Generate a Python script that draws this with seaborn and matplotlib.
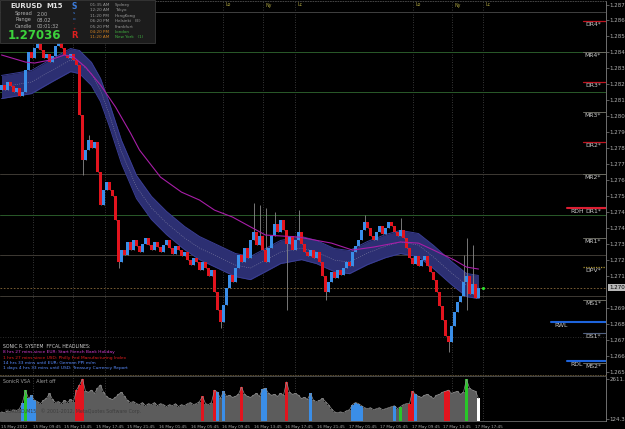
import matplotlib
matplotlib.use("Agg")
import matplotlib.pyplot as plt
from matplotlib.patches import Rectangle
from matplotlib.transforms import blended_transform_factory
import numpy as np
import pandas as pd
import seaborn as sns

# ---------- chart data (EURUSD M15) ----------
last_price = 1.27036
first_open = 1.28234
closes = [
    1.28264, 1.28234, 1.28282, 1.28258, 1.28221, 1.28246, 1.28197, 1.28221, 1.28355, 1.28464,
    1.28428, 1.28488, 1.28512, 1.28476, 1.28428, 1.28452, 1.28403, 1.28440, 1.28500, 1.28537,
    1.28488, 1.28446, 1.28428, 1.28452, 1.28415, 1.28385, 1.28082, 1.27809, 1.27870, 1.27931,
    1.27882, 1.27918, 1.27736, 1.27536, 1.27628, 1.27676, 1.27628, 1.27591, 1.27446, 1.27191,
    1.27264, 1.27234, 1.27313, 1.27264, 1.27325, 1.27288, 1.27252, 1.27300, 1.27337, 1.27294,
    1.27264, 1.27313, 1.27282, 1.27252, 1.27294, 1.27325, 1.27276, 1.27240, 1.27288, 1.27264,
    1.27228, 1.27252, 1.27203, 1.27173, 1.27216, 1.27191, 1.27143, 1.27191, 1.27155, 1.27106,
    1.27143, 1.27009, 1.26900, 1.26828, 1.26931, 1.27034, 1.27113, 1.27070, 1.27155, 1.27234,
    1.27191, 1.27276, 1.27216, 1.27325, 1.27373, 1.27294, 1.27349, 1.27264, 1.27191, 1.27276,
    1.27349, 1.27422, 1.27373, 1.27446, 1.27385, 1.27300, 1.27349, 1.27264, 1.27325, 1.27373,
    1.27300, 1.27252, 1.27228, 1.27264, 1.27216, 1.27252, 1.27191, 1.27106, 1.27009, 1.27070,
    1.27131, 1.27094, 1.27143, 1.27113, 1.27155, 1.27191, 1.27167, 1.27252, 1.27288, 1.27325,
    1.27385, 1.27434, 1.27397, 1.27349, 1.27325, 1.27373, 1.27409, 1.27361, 1.27397, 1.27434,
    1.27409, 1.27373, 1.27349, 1.27385, 1.27337, 1.27276, 1.27216, 1.27179, 1.27228, 1.27167,
    1.27203, 1.27228, 1.27167, 1.27131, 1.27082, 1.27009, 1.26925, 1.26840, 1.26743, 1.26706,
    1.26803, 1.26888, 1.26949, 1.26985, 1.27070, 1.27106, 1.26997, 1.27058, 1.26973, 1.27036,
]
wick_highs = {12: 1.28549, 29: 1.27961, 84: 1.27549, 86: 1.27537, 88: 1.27519, 91: 1.27494,
              95: 1.27367, 99: 1.27506, 121: 1.27476, 133: 1.27458, 154: 1.27234,
              155: 1.27337, 157: 1.27294}
wick_lows = {27: 1.27719, 39: 1.27155, 73: 1.26791, 95: 1.26900, 108: 1.26961,
             149: 1.26646, 155: 1.26900}

# Sonic R dragon band (mid line) and slow MA
band_bars = [0, 10, 17, 23, 26, 30, 33, 36, 40, 45, 50, 55, 61, 66, 73, 78, 83, 88, 93,
             100, 105, 111, 116, 122, 128, 133, 139, 144, 150, 155, 159]
band_mid = [1.28252, 1.28282, 1.28355, 1.28415, 1.28403, 1.28331, 1.28234, 1.28082, 1.27858,
            1.27646, 1.27519, 1.27428, 1.27337, 1.27276, 1.27216, 1.27173, 1.27155, 1.27203,
            1.27252, 1.27276, 1.27252, 1.27203, 1.27191, 1.27246, 1.27288, 1.27313, 1.27294,
            1.27222, 1.27125, 1.27052, 1.27040]
band_half = 0.00070
ma_bars = [0, 8, 11, 16, 21, 24, 28, 33, 38, 43, 46, 53, 60, 66, 71, 77, 88, 99, 110, 117,
           124, 133, 139, 144, 151, 155, 159]
ma_vals = [1.28446, 1.28403, 1.28397, 1.28415, 1.28446, 1.28434, 1.28373, 1.28264, 1.28131,
           1.27973, 1.27870, 1.27706, 1.27615, 1.27567, 1.27506, 1.27464, 1.27355, 1.27343,
           1.27306, 1.27264, 1.27282, 1.27313, 1.27306, 1.27264, 1.27203, 1.27161, 1.27149]

volumes = [
    570, 510, 640, 570, 700, 640, 764, 1150, 1916, 1400,
    1600, 1280, 1210, 1080, 1280, 1400, 1720, 1340, 1150, 1210,
    1080, 1280, 1150, 1340, 1210, 1920, 2240, 2611, 1850, 1790,
    1920, 1720, 2040, 2240, 1790, 1530, 1400, 1340, 1470, 1660,
    1790, 1530, 1280, 1150, 1210, 1080, 1020, 1150, 950, 1080,
    1020, 1150, 950, 1080, 1020, 890, 1020, 950, 1080, 890,
    1020, 950, 1080, 1150, 1020, 1080, 1210, 1530, 1080, 1020,
    1150, 1920, 1790, 1400, 1850, 1530, 1600, 1470, 1530, 1660,
    2110, 1660, 1530, 1470, 1600, 1720, 1530, 1980, 2040, 1720,
    1600, 1660, 1530, 1720, 1600, 2430, 1790, 1660, 1720, 1600,
    1400, 1470, 1340, 1720, 1280, 1210, 1280, 1400, 1210, 1020,
    764, 570, 510, 570, 510, 640, 700, 1020, 1150, 1080,
    950, 830, 764, 830, 700, 764, 830, 700, 764, 830,
    890, 950, 764, 890, 1020, 1080, 1080, 1850, 1660, 1530,
    1470, 1600, 1660, 1530, 1400, 1600, 1660, 1790, 1850, 1920,
    1720, 1790, 1850, 1660, 1790, 2600, 2040, 1920, 1850, 1400,
]
vsa_blue = [7, 9, 10, 11, 72, 74, 87, 88, 103, 117, 118, 119, 120, 131, 138]
vsa_red = [25, 26, 27, 67, 71, 80, 95, 136, 137, 148, 149]
vsa_green = [8, 133, 155]
vsa_white = [159]
vol_min, vol_max = 124.38, 2611.26

price_ticks = [1.26525, 1.26620, 1.26720, 1.26815, 1.26915, 1.27105, 1.27205, 1.27300,
               1.27400, 1.27495, 1.27590, 1.27690, 1.27785, 1.27885, 1.27980, 1.28075,
               1.28175, 1.28270, 1.28370, 1.28465, 1.28560, 1.28655, 1.28750]
date_labels = ["15 May 2012", "15 May 09:45", "15 May 13:45", "15 May 17:45", "15 May 21:45",
               "16 May 01:45", "16 May 05:45", "16 May 09:45", "16 May 13:45", "16 May 17:45",
               "16 May 21:45", "17 May 01:45", "17 May 05:45", "17 May 09:45", "17 May 13:45",
               "17 May 17:45"]

pivot_names = ["DR4*", "MR4*", "DR3*", "MR3*", "DR2*", "MR2*", "DR1*", "MR1*", "DPV*",
               "MS1*", "DS1*", "MS2*"]
pivot_prices = [1.28652, 1.28464, 1.28282, 1.28100, 1.27918, 1.27725, 1.27519, 1.27337,
                1.27161, 1.26961, 1.26761, 1.26579]
range_names = ["RDH", "RWL", "RDL"]
range_prices = [1.27519, 1.26828, 1.26591]
level_lines = [1.28464, 1.28221, 1.27725, 1.27476, 1.27234, 1.26985]

session_names = ["Lo", "Ny", "Lc", "Lo", "Ny", "Lc"]
session_times = ["01:35 AM", "12:20 AM", "11:20 PM", "06:20 PM", "05:20 PM", "04:20 PM", "11:20 AM"]
session_cities = ["Sydney", "Tokyo", "HongKong", "Helsinki   (E)", "Frankfurt", "London", "New York   (1)"]
headlines = ["8 hrs 27 mins since EUR: Start French Bank Holiday",
             "1 hrs 27 mins since USD: Philly Fed Manufacturing Index",
             "14 hrs 33 mins until EUR: German PPI m/m",
             "1 days 4 hrs 33 mins until USD: Treasury Currency Report"]
headline_colors = ["#d23cd2", "#e01e1e", "#5a8cff", "#5a8cff"]
# ----------------------------------------------------------------------

sns.set_style("dark", {"axes.facecolor": "black", "figure.facecolor": "black"})
plt.rcParams["font.family"] = ["DejaVu Sans"]

W, H = 625, 429
fig = plt.figure(figsize=(W / 100, H / 100), dpi=100)
fig.patch.set_facecolor("black")


def px_box(x0, y0, x1, y1):
    return [x0 / W, 1 - y1 / H, (x1 - x0) / W, (y1 - y0) / H]


def ftext(x, y, s, **kw):
    kw.setdefault("va", "center")
    kw.setdefault("zorder", 7)
    fig.text(x / W, 1 - y / H, s, **kw)


def pbar(px):
    # pixel column -> bar position (3 px per bar)
    return px / 3 - 0.5


ax = fig.add_axes(px_box(0, 1, 606, 375))
vax = fig.add_axes(px_box(0, 376, 606, 421))

# candles
df = pd.DataFrame({"close": closes})
df["bar"] = np.arange(len(df))
df["open"] = [first_open] + closes[:-1]
df["top"] = df[["open", "close"]].max(axis=1)
df["bot"] = df[["open", "close"]].min(axis=1)
df["high"] = [max(t, wick_highs.get(i, t)) for i, t in enumerate(df["top"])]
df["low"] = [min(b, wick_lows.get(i, b)) for i, b in enumerate(df["bot"])]
df["color"] = np.where(df["close"] >= df["open"], "#3a8ee8", "#e2141e")

mid = np.array(band_mid)
ax.fill_between(band_bars, mid - band_half, mid + band_half, color="#2c2f72", lw=0, zorder=1)
ax.plot(band_bars, mid + band_half, color="#3a3e94", lw=0.7, zorder=1)
ax.plot(band_bars, mid - band_half, color="#3a3e94", lw=0.7, zorder=1)
ax.plot(band_bars, mid, color="#7a7aa0", lw=0.4, ls=(0, (2, 2)), zorder=1)

ax.vlines(df["bar"], df["low"], df["high"], color="#8a8a8a", lw=0.6, zorder=2)
ax.bar(df["bar"], (df["top"] - df["bot"]).clip(lower=0.00003), bottom=df["bot"],
       width=0.7, color=df["color"], lw=0, zorder=3)

sns.lineplot(x=ma_bars, y=ma_vals, ax=ax, color="#a81ea8", lw=0.8, zorder=4, legend=False)

# level lines across the chart
for lv in level_lines:
    c = "#2a5a2a" if lv in (1.28464, 1.28221, 1.27476) else "#3e3a34"
    ax.axhline(lv, color=c, lw=0.7, zorder=0.5)
ax.axhline(1.26737, color="#3c3c3c", lw=0.6, ls=(0, (1, 2)), zorder=0.5)
ax.axhline(1.28709, color="#404040", lw=0.7, zorder=0.5)
ax.axhline(last_price, color="#8a6a3a", lw=0.6, ls=(0, (2, 2)), zorder=0.6)

# session separators
for px in [33, 73, 105, 223, 263, 295, 413, 452, 483]:
    for a in (ax, vax):
        a.axvline(pbar(px), color="#4a4a4a", lw=0.6, ls=(0, (1, 2)), zorder=0.4)
for px, name in zip([223, 263, 295, 413, 452, 483], session_names):
    ftext(px + 2, 5, name, fontsize=3.4, color="#a8a040", ha="left")

# pivot levels
x_short = pbar(583)
x_end = pbar(606)
for name, p in zip(pivot_names, pivot_prices):
    if name.startswith("DR"):
        col, ls, lw = "#c01420", "-", 0.9
    elif name.startswith("DP"):
        col, ls, lw = "#a89030", (0, (1, 1)), 0.9
    elif name.startswith("DS"):
        col, ls, lw = "#506080", "-", 0.8
    else:
        col, ls, lw = "#6a6a60", "-", 0.7
    ax.plot([x_short, x_end], [p, p], color=col, ls=ls, lw=lw, zorder=2)
    ax.text(pbar(601), p - 0.00021, name, fontsize=4.4, color="#c8c8c8",
            ha="right", va="center", zorder=5)

for name, p, col, start in zip(range_names, range_prices,
                               ["#dc1e32", "#1e64dc", "#1e64dc"], [567, 551, 567]):
    ax.plot([pbar(start), x_end], [p, p], color=col, lw=1.5, zorder=2)
    ax.text(pbar(start + 3), p - 0.00021, name, fontsize=4.4, color="#c8c8c8",
            ha="left", va="center", zorder=5)

ax.scatter([pbar(483)], [last_price], s=5, color="#2ee02e", zorder=6, lw=0)

# axes setup
ax.set_xlim(-0.5, 201.5)
ax.set_ylim(1.26507, 1.28773)
ax.set_xticks([])
ax.yaxis.tick_right()
ax.set_yticks(price_ticks)
ax.set_yticklabels([f"{t:.5f}" for t in price_ticks])
ax.tick_params(axis="y", colors="#808080", labelcolor="#b0b0b0", labelsize=4.0,
               length=2, width=0.5, pad=0.6)
ax.grid(False)
ax.spines["left"].set_visible(False)
ax.spines["right"].set_color("#808080")
ax.spines["right"].set_linewidth(0.6)
ax.spines["top"].set_color("#505050")
ax.spines["top"].set_linestyle((0, (1, 2)))
ax.spines["top"].set_linewidth(0.6)
ax.spines["bottom"].set_color("#6a5a3a")
ax.spines["bottom"].set_linestyle((0, (1, 2)))
ax.spines["bottom"].set_linewidth(0.6)

trans = blended_transform_factory(ax.transAxes, ax.transData)
ax.text(1.005, last_price, f"{last_price:.5f}", transform=trans, fontsize=4.0,
        color="black", va="center", ha="left", zorder=8, clip_on=False,
        bbox=dict(boxstyle="square,pad=0.15", fc="#b8b8b8", ec="none"))

# volume panel
vcol = ["#5c5c5c"] * len(volumes)
for idx_list, c in [(vsa_blue, "#3a8ee8"), (vsa_red, "#e2141e"),
                    (vsa_green, "#28c828"), (vsa_white, "#ffffff")]:
    for i in idx_list:
        vcol[i] = c
vbars = np.arange(len(volumes))
vax.bar(vbars, volumes, width=0.7, color=vcol, lw=0, zorder=2)
sns.lineplot(x=vbars, y=volumes, ax=vax, color="#8c8c8c", lw=0.5, zorder=3, legend=False)
vax.set_xlim(-0.5, 201.5)
vax.set_ylim(0, 2798)
vax.yaxis.tick_right()
vax.set_yticks([vol_min, vol_max])
vax.set_yticklabels([f"{vol_min:.2f}", f"{vol_max:.2f}"])
vax.tick_params(axis="y", colors="#808080", labelcolor="#b0b0b0", labelsize=4.0,
                length=2, width=0.5, pad=0.6)
date_pos = [pbar(1 + 31.6 * k) for k in range(len(date_labels))]
vax.set_xticks(date_pos)
vax.set_xticklabels(date_labels)
vax.tick_params(axis="x", colors="#808080", labelcolor="#a8a8a8", labelsize=3.0,
                length=2, width=0.5, pad=0.8)
for t in vax.get_xticklabels():
    t.set_ha("left")
vax.grid(False)
vax.spines["left"].set_visible(False)
vax.spines["bottom"].set_color("#808080")
vax.spines["bottom"].set_linewidth(0.5)
vax.spines["right"].set_color("#808080")
vax.spines["right"].set_linewidth(0.6)
vax.spines["top"].set_color("#505050")
vax.spines["top"].set_linewidth(0.6)
vax.text(0.005, 0.88, "SonicR VSA    Alert off", transform=vax.transAxes, fontsize=3.4,
         color="#a0a0a0", va="center", ha="left", zorder=5)
vax.text(0.008, 0.22, "EURUSD,M15   \u00a9 2001-2012, MetaQuotes Software Corp.",
         transform=vax.transAxes, fontsize=3.4, color="#3e3e3e", va="center", ha="left",
         zorder=5)

# info box (top left)
fig.patches.append(Rectangle((0, 1 - 43 / H), 155 / W, 43 / H, transform=fig.transFigure,
                             fc="#1c1c1c", ec="#3a3a3a", lw=0.6, zorder=6))
ftext(10, 6.5, "EURUSD", fontsize=5, color="#e0e0e0", fontweight="bold", ha="left")
ftext(46, 6.5, "M15", fontsize=5, color="#e0e0e0", fontweight="bold", ha="left")
for row, (lab, val) in enumerate([("Spread", "2.00"), ("Range", "08.02"),
                                  ("Candle", "00:01:32")]):
    ftext(15, 14 + 6 * row, lab, fontsize=3.6, color="#b0b0b0", ha="left")
    ftext(37, 14 + 6 * row, val, fontsize=3.6, color="#b0b0b0", ha="left")
ftext(8, 35.5, f"{last_price:.5f}", fontsize=8.5, color="#3cd23c", fontweight="bold", ha="left")
ftext(74, 6.5, "S", fontsize=5.5, color="#3c7cdc", fontweight="bold", ha="center")
ftext(74, 13, "s", fontsize=3.2, color="#3c7cdc", ha="center")
ftext(74, 18.5, "o", fontsize=3.2, color="#3c7cdc", ha="center")
ftext(74, 23.5, "-", fontsize=3.2, color="#e02020", ha="center")
ftext(74, 28.5, "+", fontsize=3.2, color="#e02020", ha="center")
ftext(74, 35.5, "R", fontsize=6, color="#e02020", fontweight="bold", ha="center")
for row, (tm, city) in enumerate(zip(session_times, session_cities)):
    tcol, ccol = ("#d08020", "#40b040") if row >= 5 else ("#9a9a9a", "#9a9a9a")
    ftext(90, 5 + 5.4 * row, tm, fontsize=3.0, color=tcol, ha="left")
    ftext(115, 5 + 5.4 * row, city, fontsize=3.0, color=ccol, ha="left")

# news headlines (bottom left)
ftext(3, 346, "SONIC R. SYSTEM  FFCAL HEADLINES:", fontsize=3.3, color="#d0d0d0", ha="left")
for row, (txt, col) in enumerate(zip(headlines, headline_colors)):
    ftext(3, 352 + 5.5 * row, txt, fontsize=3.2, color=col, ha="left")

fig.savefig("out.png", dpi=100, facecolor="black")
